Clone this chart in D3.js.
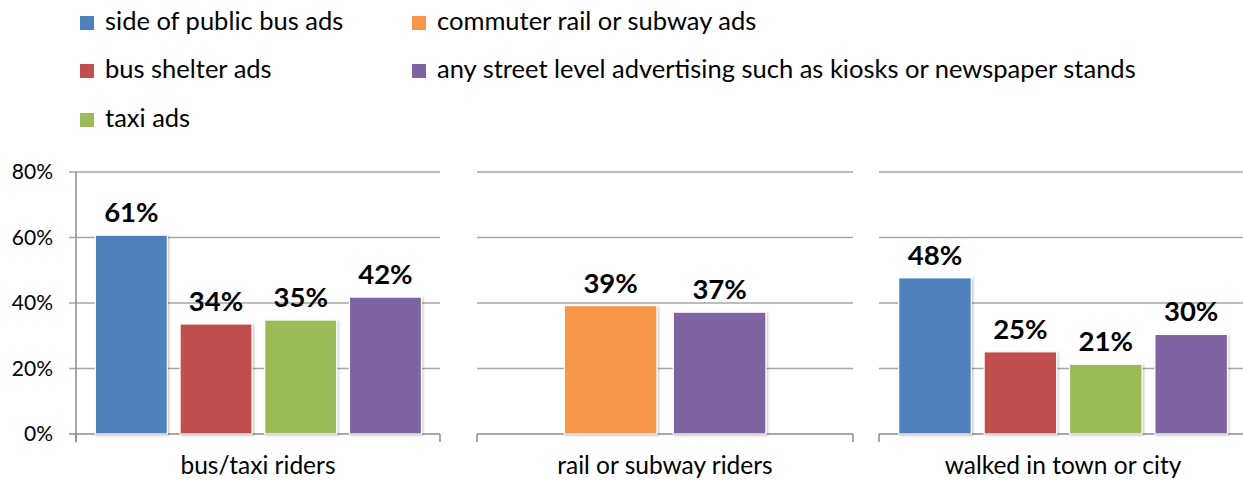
<!DOCTYPE html>
<html>
<head>
<meta charset="utf-8">
<script src="https://cdn.jsdelivr.net/npm/d3@7"></script>
<style>
  body { margin: 0; background: #fff; }
  svg { display: block; font-family: Lato, "Open Sans", sans-serif; }
</style>
</head>
<body>
<svg id="chart"></svg>
<script>
// data
const categories = ['bus/taxi riders', 'rail or subway riders', 'walked in town or city'];
const seriesNames = ['side of public bus ads', 'commuter rail or subway ads', 'bus shelter ads',
  'any street level advertising such as kiosks or newspaper stands', 'taxi ads'];
const seriesColors = ['#4F81BD', '#F79646', '#C0504D', '#8064A2', '#9BBB59'];

const busTaxiSeries = ['side of public bus ads', 'bus shelter ads', 'taxi ads',
  'any street level advertising such as kiosks or newspaper stands'];
const busTaxiValues = [0.607, 0.336, 0.348, 0.418];

const railSeries = ['commuter rail or subway ads',
  'any street level advertising such as kiosks or newspaper stands'];
const railValues = [0.392, 0.372];

const walkedSeries = ['side of public bus ads', 'bus shelter ads', 'taxi ads',
  'any street level advertising such as kiosks or newspaper stands'];
const walkedValues = [0.477, 0.251, 0.213, 0.304];

const yTicks = [0, 0.2, 0.4, 0.6, 0.8];

const width = 1243;
const height = 481;

// layout of the three panels
const panels = [
  { name: categories[0], series: busTaxiSeries, values: busTaxiValues, x0: 76, x1: 440, bars: [89, 427.8] },
  { name: categories[1], series: railSeries, values: railValues, x0: 477, x1: 853, bars: [556.1, 774.1] },
  { name: categories[2], series: walkedSeries, values: walkedValues, x0: 879, x1: 1247, bars: [892.3, 1233.9] }
];

const color = d3.scaleOrdinal().domain(seriesNames).range(seriesColors);
const y = d3.scaleLinear().domain([0, 0.8]).range([434, 172]);
const pct = d3.format('.0%');

const svg = d3.select('#chart')
  .attr('width', width)
  .attr('height', height);

const defs = svg.append('defs');
const shadow = defs.append('filter').attr('id', 'shadow')
  .attr('x', '-10%').attr('y', '-10%').attr('width', '130%').attr('height', '130%');
shadow.append('feDropShadow')
  .attr('dx', 1.2).attr('dy', 1)
  .attr('stdDeviation', 1)
  .attr('flood-color', '#000')
  .attr('flood-opacity', 0.25);

// legend
const legendPos = [[80, 16], [412, 16], [80, 64], [412, 64], [80, 113]];
const legend = svg.append('g').classed('legend', true);
seriesNames.forEach((s, i) => {
  const [lx, ly] = legendPos[i];
  legend.append('rect')
    .attr('x', lx).attr('y', ly)
    .attr('width', 14).attr('height', 14)
    .attr('fill', color(s));
  legend.append('text')
    .attr('x', lx + 25).attr('y', ly + 14)
    .attr('font-size', 25.5)
    .attr('fill', '#000')
    .text(s);
});

// panels
panels.forEach((p, i) => {
  const g = svg.append('g').classed('panel', true);
  const gx0 = i === 0 ? p.x0 - 7 : p.x0;

  // gridlines
  g.selectAll('.grid')
    .data(yTicks.slice(1))
    .enter()
    .append('line')
    .attr('x1', gx0).attr('x2', p.x1)
    .attr('y1', d => y(d)).attr('y2', d => y(d))
    .attr('stroke', '#a6a6a6')
    .attr('stroke-width', 1.5);

  // baseline + end ticks
  g.append('line')
    .attr('x1', gx0).attr('x2', p.x1)
    .attr('y1', y(0)).attr('y2', y(0))
    .attr('stroke', '#8c8c8c').attr('stroke-width', 1.5);
  [p.x0, p.x1].forEach(tx => {
    g.append('line')
      .attr('x1', tx).attr('x2', tx)
      .attr('y1', y(0)).attr('y2', y(0) + 8)
      .attr('stroke', '#8c8c8c').attr('stroke-width', 1.5);
  });

  const x = d3.scaleBand()
    .domain(p.series)
    .range(p.bars)
    .paddingInner(0.15)
    .paddingOuter(0.075);

  const rows = p.series.map((s, j) => ({ s, v: p.values[j] }));

  g.selectAll('.bar')
    .data(rows)
    .enter()
    .append('rect')
    .classed('bar', true)
    .attr('x', d => x(d.s))
    .attr('y', d => y(d.v))
    .attr('width', x.bandwidth())
    .attr('height', d => y(0) - y(d.v))
    .attr('fill', d => color(d.s))
    .attr('stroke', '#fff')
    .attr('stroke-width', 1.2)
    .attr('filter', 'url(#shadow)');

  g.selectAll('.value')
    .data(rows)
    .enter()
    .append('text')
    .classed('value', true)
    .attr('x', d => x(d.s) + x.bandwidth() / 2)
    .attr('y', d => y(d.v) - 13)
    .attr('text-anchor', 'middle')
    .attr('font-size', 27.5)
    .attr('font-weight', 'bold')
    .attr('fill', '#000')
    .text(d => pct(d.v));

  g.append('text')
    .attr('x', (p.x0 + p.x1) / 2)
    .attr('y', 474)
    .attr('text-anchor', 'middle')
    .attr('font-size', 24.5)
    .attr('fill', '#000')
    .text(p.name);
});

// y axis on the first panel
const yAxis = svg.append('g')
  .attr('transform', `translate(${panels[0].x0},0)`)
  .call(d3.axisLeft(y).tickValues(yTicks).tickFormat(pct).tickSize(0).tickPadding(23));
yAxis.select('.domain').remove();
yAxis.append('line')
  .attr('x1', 0).attr('x2', 0)
  .attr('y1', y(0.8)).attr('y2', y(0) + 8)
  .attr('stroke', '#8c8c8c').attr('stroke-width', 1.5);
yAxis.selectAll('text')
  .attr('font-family', 'Lato, "Open Sans", sans-serif')
  .attr('font-size', 21)
  .attr('fill', '#000');
</script>
</body>
</html>
